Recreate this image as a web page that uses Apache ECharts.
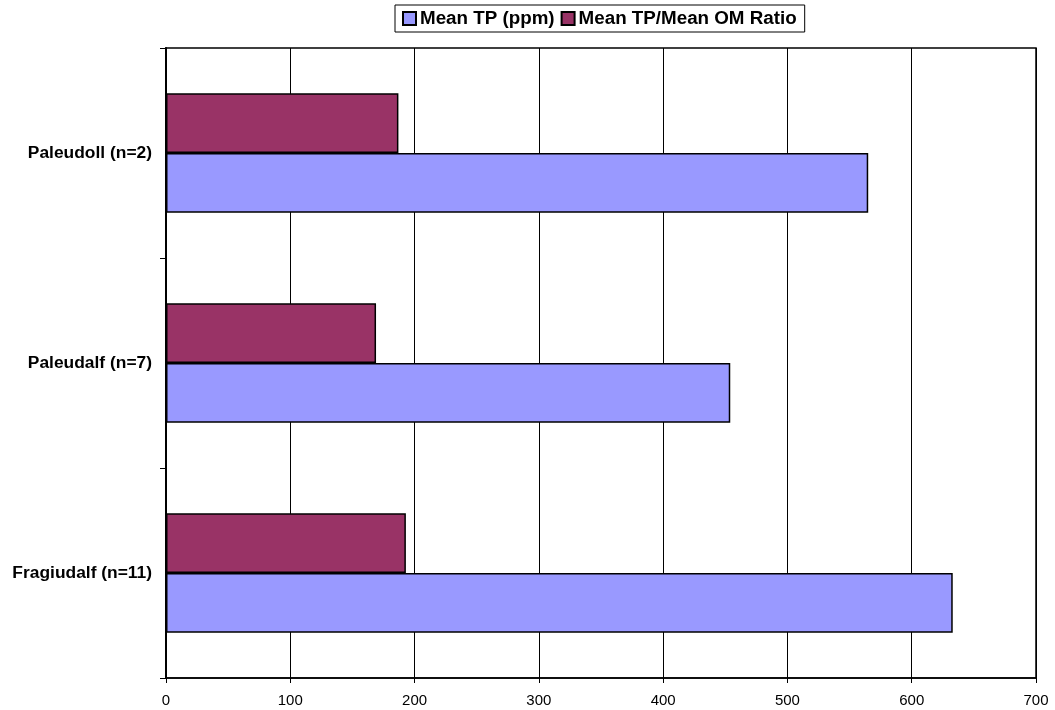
<!DOCTYPE html>
<html>
<head>
<meta charset="utf-8">
<script src="https://cdn.jsdelivr.net/npm/echarts@6/dist/echarts.min.js"></script>
<style>
html,body{margin:0;padding:0;background:#fff;}
#chart{width:1055px;height:710px;}
</style>
</head>
<body>
<div id="chart"></div>
<script>
const categories = ['Fragiudalf (n=11)', 'Paleudalf (n=7)', 'Paleudoll (n=2)'];
const meanTP = [633, 454, 565];
const tpOmRatio = [193, 169, 187];
const seriesNames = ['Mean TP (ppm)', 'Mean TP/Mean OM Ratio'];

const chart = echarts.init(document.getElementById('chart'));
const font = 'Arial, "Liberation Sans", Helvetica, sans-serif';
chart.setOption({
  animation: false,
  backgroundColor: '#fff',
  textStyle: { fontFamily: font },
  legend: {
    data: seriesNames,
    left: 395,
    top: 5,
    padding: [4, 8, 4, 7],
    itemGap: 6,
    itemWidth: 13,
    itemHeight: 13,
    borderColor: '#000',
    borderWidth: 1,
    icon: 'rect',
    textStyle: { fontFamily: font, fontWeight: 'bold', fontSize: 18.8, color: '#000', padding: [0, 0, 0, -1] }
  },
  grid: {
    left: 166, right: 19, top: 48, bottom: 32,
    show: true, borderColor: '#000', borderWidth: 1.5, backgroundColor: 'transparent'
  },
  xAxis: {
    type: 'value',
    min: 0, max: 700, interval: 100,
    axisLine: { show: true, lineStyle: { color: '#000', width: 1.5 } },
    axisTick: { show: true, length: 5, lineStyle: { color: '#000' } },
    axisLabel: { color: '#000', fontSize: 15, margin: 15, fontFamily: font },
    splitLine: { show: true, lineStyle: { color: '#000', width: 1 } }
  },
  yAxis: {
    type: 'category',
    data: categories,
    axisLine: { show: true, lineStyle: { color: '#000', width: 2 } },
    axisTick: { show: true, length: 6, alignWithLabel: false, lineStyle: { color: '#000' } },
    axisLabel: { color: '#000', fontSize: 17.4, fontWeight: 'bold', margin: 14, fontFamily: font },
    splitLine: { show: false }
  },
  series: [
    {
      name: seriesNames[1], type: 'bar', data: tpOmRatio,
      barGap: '0%', barCategoryGap: '43%',
      itemStyle: { color: '#993366', borderColor: '#000', borderWidth: 1.5 }
    },
    {
      name: seriesNames[0], type: 'bar', data: meanTP,
      barGap: '0%', barCategoryGap: '43%',
      itemStyle: { color: '#9999FF', borderColor: '#000', borderWidth: 1.5 }
    }
  ]
});
</script>
</body>
</html>
